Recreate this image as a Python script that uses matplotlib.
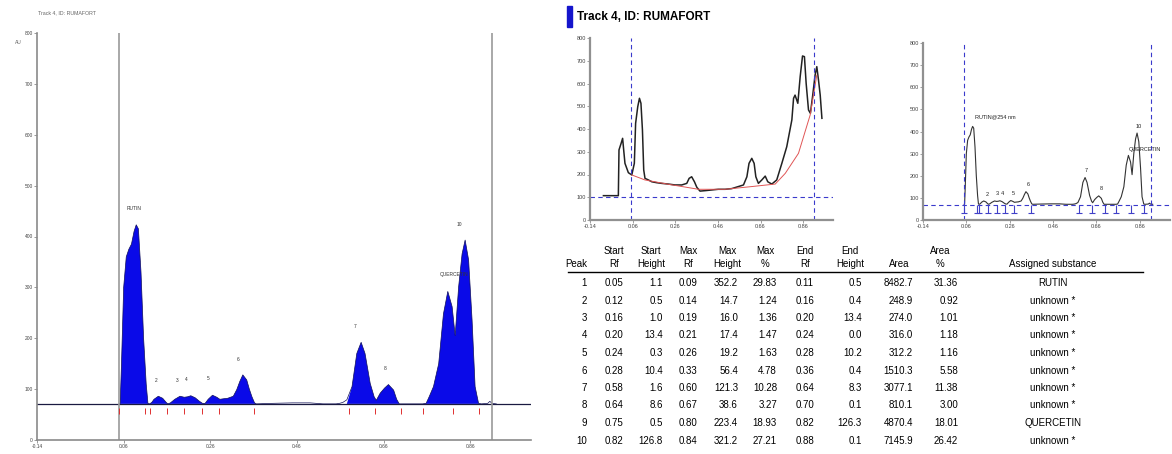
import numpy as np
import matplotlib
matplotlib.use("Agg")
import matplotlib.pyplot as plt
from matplotlib.patches import Rectangle

plt.rcParams['font.family'] = ['Liberation Sans Narrow', 'Liberation Sans', 'DejaVu Sans']

# ---------------- peak table ----------------
peaks = [1, 2, 3, 4, 5, 6, 7, 8, 9, 10]
start_rf = [0.05, 0.12, 0.16, 0.20, 0.24, 0.28, 0.58, 0.64, 0.75, 0.82]
start_height = [1.1, 0.5, 1.0, 13.4, 0.3, 10.4, 1.6, 8.6, 0.5, 126.8]
max_rf = [0.09, 0.14, 0.19, 0.21, 0.26, 0.33, 0.60, 0.67, 0.80, 0.84]
max_height = [352.2, 14.7, 16.0, 17.4, 19.2, 56.4, 121.3, 38.6, 223.4, 321.2]
max_pct = [29.83, 1.24, 1.36, 1.47, 1.63, 4.78, 10.28, 3.27, 18.93, 27.21]
end_rf = [0.11, 0.16, 0.20, 0.24, 0.28, 0.36, 0.64, 0.70, 0.82, 0.88]
end_height = [0.5, 0.4, 13.4, 0.0, 10.2, 0.4, 8.3, 0.1, 126.3, 0.1]
area = [8482.7, 248.9, 274.0, 316.0, 312.2, 1510.3, 3077.1, 810.1, 4870.4, 7145.9]
area_pct = [31.36, 0.92, 1.01, 1.18, 1.16, 5.58, 11.38, 3.00, 18.01, 26.42]
substance = ["RUTIN", "unknown *", "unknown *", "unknown *", "unknown *",
             "unknown *", "unknown *", "unknown *", "QUERCETIN", "unknown *"]

# ---------------- densitogram (Rf, AU) ----------------
track_rf = [0.050, 0.052, 0.055, 0.060, 0.066, 0.072, 0.078, 0.084, 0.089, 0.094,
            0.100, 0.106, 0.112, 0.116, 0.120, 0.125, 0.130, 0.140, 0.150, 0.158,
            0.162, 0.168, 0.178, 0.190, 0.200, 0.208, 0.215, 0.225, 0.235, 0.242,
            0.248, 0.255, 0.265, 0.275, 0.282, 0.290, 0.300, 0.313, 0.321, 0.328,
            0.335, 0.344, 0.350, 0.356, 0.362, 0.366, 0.400, 0.450, 0.490, 0.520,
            0.550, 0.558, 0.566, 0.575, 0.587, 0.598, 0.608, 0.617, 0.629, 0.638,
            0.643, 0.652, 0.662, 0.671, 0.683, 0.690, 0.696, 0.720, 0.750, 0.758,
            0.765, 0.775, 0.787, 0.798, 0.808, 0.818, 0.825, 0.833, 0.841, 0.848,
            0.856, 0.864, 0.871, 0.879, 0.885, 0.900, 0.905, 0.910, 0.920]
track_au = [71, 72, 150, 300, 360, 375, 385, 410, 423, 415,
            330, 200, 110, 72, 71, 74, 80, 86, 82, 74,
            71, 73, 80, 86, 84, 85, 87, 83, 76, 72,
            72, 80, 88, 84, 80, 81, 82, 86, 99, 115,
            128, 118, 100, 85, 73, 71, 72, 73, 73, 71,
            71, 72, 74, 79, 105, 170, 192, 170, 111, 85,
            78, 92, 102, 109, 98, 80, 71, 71, 71, 72,
            85, 105, 150, 248, 292, 262, 205, 301, 366, 393,
            354, 236, 105, 72, 71, 72, 76, 72, 71]
baseline_au = 71

# raw scan with its fitted baseline (top-left panel)
raw_rf = [-0.077, -0.007, -0.004, 0.006, 0.013, 0.018, 0.024, 0.040, 0.056, 0.068,
          0.074, 0.084, 0.092, 0.099, 0.106, 0.112, 0.118, 0.134, 0.150, 0.173,
          0.196, 0.228, 0.259, 0.290, 0.314, 0.325, 0.337, 0.350, 0.361, 0.376,
          0.400, 0.431, 0.462, 0.494, 0.525, 0.556, 0.580, 0.596, 0.606, 0.619,
          0.630, 0.638, 0.650, 0.666, 0.682, 0.694, 0.713, 0.736, 0.760, 0.783,
          0.807, 0.815, 0.822, 0.835, 0.846, 0.857, 0.866, 0.874, 0.885, 0.894,
          0.904, 0.916, 0.924, 0.932, 0.940, 0.948]
raw_au = [107, 107, 308, 337, 359, 308, 249, 208, 198, 249,
          425, 498, 535, 513, 396, 220, 183, 176, 168, 164,
          161, 158, 154, 154, 161, 183, 190, 168, 144, 127,
          129, 132, 135, 135, 138, 147, 154, 190, 249, 271,
          249, 190, 161, 176, 193, 168, 158, 176, 249, 322,
          440, 535, 549, 513, 630, 721, 718, 601, 484, 469,
          542, 637, 674, 615, 549, 447]
raw_base_rf = [0.056, 0.118, 0.228, 0.369, 0.494, 0.619, 0.729, 0.776, 0.838, 0.893, 0.924]
raw_base_au = [198, 176, 157, 135, 135, 147, 158, 205, 293, 462, 637]
raw_hline = 100
corr_hline = 68

rf_lines = [0.05, 0.91]
x_ticks = [-0.14, 0.06, 0.26, 0.46, 0.66, 0.86]
y_ticks = [0, 100, 200, 300, 400, 500, 600, 700, 800]

W, H = 1172, 454
fig = plt.figure(figsize=(W / 100, H / 100), dpi=100)


def px_axes(x0, y_top, x1, y_bot):
    return fig.add_axes([x0 / W, 1 - y_bot / H, (x1 - x0) / W, (y_bot - y_top) / H])


def style_axes(ax, color, lw, size):
    for s in ["top", "right"]:
        ax.spines[s].set_visible(False)
    for s in ["left", "bottom"]:
        ax.spines[s].set_color(color)
        ax.spines[s].set_linewidth(lw)
    ax.set_xlim(-0.14, 1.0)
    ax.set_ylim(0, 800)
    ax.set_xticks(x_ticks)
    ax.set_xticklabels([f"{t:.2f}" for t in x_ticks])
    ax.set_yticks(y_ticks)
    ax.tick_params(labelsize=size, length=2, width=0.6, color=color,
                   labelcolor="#444", pad=1)
    ax.patch.set_alpha(0)


# ---------------- left: densitogram with filled peaks ----------------
ax = px_axes(37, 33, 531, 440)
style_axes(ax, "#8a8a8a", 1.2, 3.5)
rf = np.array(track_rf)
au = np.array(track_au)
mask = np.zeros(len(rf), dtype=bool)
for s, e in zip(start_rf, end_rf):
    mask |= (rf >= s - 0.004) & (rf <= e + 0.004)
ax.fill_between(rf, baseline_au, au, where=mask, color="#0a0ae8", lw=0, interpolate=True)
ax.plot(rf, au, color="#10105a", lw=0.5)
ax.axhline(baseline_au, color="#1a1a40", lw=0.9)
for x in rf_lines:
    ax.axvline(x, color="#9a9a9a", lw=1.2)
ax.vlines(sorted(set(start_rf + end_rf)), 52, 63, color="#e03030", lw=0.7)
for i, p in enumerate(peaks):
    lab = substance[i] if substance[i] != "unknown *" else str(p)
    y = baseline_au + max_height[i] + 26
    if lab == "QUERCETIN":
        ax.text(max_rf[i] - 0.01, y, lab, fontsize=3.5, ha="left", va="bottom", color="#333")
    else:
        ax.text(max_rf[i] - 0.006, y, lab, fontsize=3.5, ha="center", va="bottom", color="#333")
fig.text(38 / W, 1 - 13 / H, "Track 4, ID: RUMAFORT", fontsize=3.8, color="#666", va="center")
fig.text(15 / W, 1 - 43 / H, "AU", fontsize=3.5, color="#666", va="center")

# ---------------- top-middle: raw scan + baseline ----------------
ax1 = px_axes(590, 38, 833, 220)
style_axes(ax1, "#909090", 1.6, 4)
ax1.plot(raw_rf, raw_au, color="#222222", lw=1.1)
ax1.plot(raw_base_rf, raw_base_au, color="#e05555", lw=0.7)
ax1.axhline(raw_hline, color="#3a3acc", lw=0.8, ls=(0, (4, 3)))
for x in rf_lines:
    ax1.axvline(x, color="#3a3acc", lw=0.8, ls=(0, (4, 3)))

# ---------------- top-right: corrected scan with peak marks ----------------
ax2 = px_axes(923, 43, 1170, 220)
style_axes(ax2, "#909090", 1.6, 4)
ax2.plot(rf, au, color="#333333", lw=0.8)
ax2.axhline(corr_hline, color="#3a3acc", lw=0.8, ls=(0, (4, 3)))
for x in rf_lines:
    ax2.axvline(x, color="#3a3acc", lw=0.8, ls=(0, (4, 3)))
bounds = sorted(set(start_rf + end_rf))
ax2.vlines(bounds, 30, corr_hline, color="#4040c8", lw=0.8)
ax2.plot(bounds, [30] * len(bounds), ls="none", marker="_", ms=4, mew=0.8, color="#4040c8")
for i, p in enumerate(peaks):
    y = baseline_au + max_height[i] + 20
    if substance[i] == "RUTIN":
        ax2.text(max_rf[i] + 0.008, y + 12, "RUTIN@254 nm", fontsize=4, ha="left", va="bottom", color="#222")
    elif substance[i] == "QUERCETIN":
        ax2.text(max_rf[i] + 0.008, y - 8, "QUERCETIN", fontsize=4, ha="left", va="bottom", color="#222")
    else:
        ax2.text(max_rf[i] + 0.015, y, str(p), fontsize=4, ha="center", va="bottom", color="#222")

# ---------------- header + table ----------------
axt = fig.add_axes([0, 0, 1, 1], zorder=-1)
axt.set_xlim(0, W)
axt.set_ylim(H, 0)
axt.axis("off")
axt.add_patch(Rectangle((567, 6), 4.5, 21, color="#1515cc"))
axt.text(577, 16.5, "Track 4, ID: RUMAFORT", fontsize=8.5, fontweight="bold", va="center", ha="left")

fs = 7
# (header line 1, header line 2, header centre x, value x, value alignment)
cols = [
    ("", "Peak", 576, 587, "right"),
    ("Start", "Rf", 614, 614, "center"),
    ("Start", "Height", 651, 663, "right"),
    ("Max", "Rf", 688, 688, "center"),
    ("Max", "Height", 727, 738, "right"),
    ("Max", "%", 765, 777, "right"),
    ("End", "Rf", 805, 805, "center"),
    ("End", "Height", 850, 862, "right"),
    ("", "Area", 899, 913, "right"),
    ("Area", "%", 940, 958, "right"),
    ("", "Assigned substance", 1053, 1053, "center"),
]
for h1, h2, hx, _, _ in cols:
    if h1:
        axt.text(hx, 251, h1, fontsize=fs, ha="center", va="center")
    axt.text(hx, 264, h2, fontsize=fs, ha="center", va="center")
axt.plot([568, 1143], [272, 272], color="black", lw=1.0)

rows = list(zip(
    [str(p) for p in peaks],
    [f"{v:.2f}" for v in start_rf],
    [f"{v:.1f}" for v in start_height],
    [f"{v:.2f}" for v in max_rf],
    [f"{v:.1f}" for v in max_height],
    [f"{v:.2f}" for v in max_pct],
    [f"{v:.2f}" for v in end_rf],
    [f"{v:.1f}" for v in end_height],
    [f"{v:.1f}" for v in area],
    [f"{v:.2f}" for v in area_pct],
    substance,
))
for r, row in enumerate(rows):
    y = 283 + 17.5 * r
    for (_, _, _, vx, ha), txt in zip(cols, row):
        axt.text(vx, y, txt, fontsize=fs, ha=ha, va="center")

fig.savefig("out.png", dpi=100)
